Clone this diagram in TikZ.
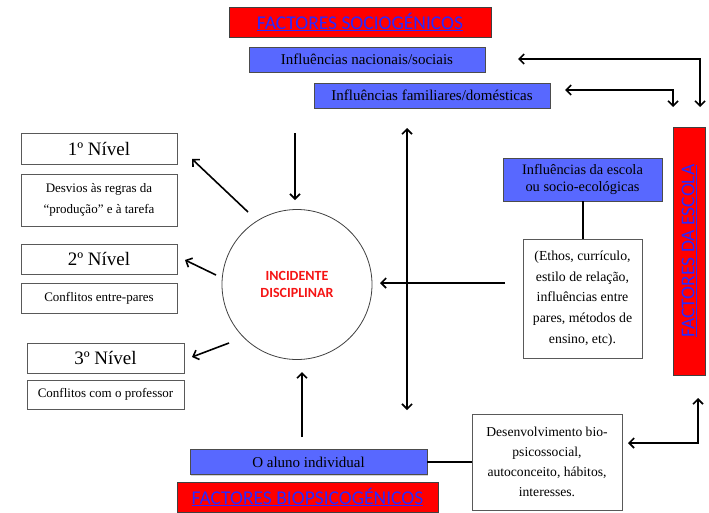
\documentclass[tikz,border=0pt]{standalone}
\usepackage{fontspec}
\setmainfont{Liberation Serif}
\newfontfamily\carl{Carlito}
\usetikzlibrary{arrows.meta,shadows}
\definecolor{boxred}{RGB}{255,0,0}
\definecolor{boxblue}{RGB}{88,104,255}
\definecolor{linkblue}{RGB}{40,40,255}
\definecolor{incred}{RGB}{245,20,20}
\newcommand{\hdline}[1]{\underline{#1}}
\begin{document}
\begin{tikzpicture}[x=1pt,y=-1pt,
  >={Straight Barb[length=5pt,width=10pt]},
  shade/.style={drop shadow={opacity=0.35, shadow xshift=1.2pt, shadow yshift=-1.2pt}},
  redbox/.style={draw=black!75, fill=boxred, line width=0.7pt, inner sep=0pt, shade,
    font=\carl\fontsize{19.5}{22}\selectfont, text=linkblue},
  bluebox/.style={draw=black!70, fill=boxblue, line width=0.7pt, inner sep=0pt, shade,
    align=center, font=\fontsize{15}{17.3}\selectfont},
  whitebox/.style={draw=black!65, fill=white, line width=0.8pt, inner sep=0pt, align=center},
  lvlhead/.style={whitebox, font=\fontsize{19}{22}\selectfont},
  lvltext/.style={whitebox, font=\fontsize{13}{21.7}\selectfont},
  bigtext/.style={whitebox, font=\fontsize{13.8}{20.8}\selectfont},
  conn/.style={line width=1.6pt, black},
  plain/.style={line width=2pt, black},
]
\useasboundingbox (0,0) rectangle (709,512);

% headings
\node[redbox, minimum width=262, minimum height=30] (soc) at (360,22) {\hdline{FACTORES SOCIOGÉNICOS}};
\node[bluebox, minimum width=236, minimum height=25] (nac) at (367,59.5) {Influências nacionais/sociais};
\node[bluebox, minimum width=236, minimum height=25] (fam) at (432,95.5) {Influências familiares/domésticas};
\node[redbox, rotate=90, minimum width=248, minimum height=32] (esc) at (689,251) {\hdline{FACTORES DA ESCOLA}};
\node[bluebox, minimum width=159, minimum height=43, font=\fontsize{14.4}{17.3}\selectfont] (infesc) at (582.5,179.5) {Influências da escola\\ou socio-ecológicas};
\node[bigtext, minimum width=119, minimum height=119] (ethos) at (582.5,298.5)
  {(Ethos, currículo,\\estilo de relação,\\influências entre\\pares, métodos de\\ensino, etc).};

% circle
\node[circle, draw=black!75, line width=0.8pt, minimum size=150, align=center,
  font=\carl\bfseries\fontsize{14}{17.5}\selectfont, text=incred] (inc) at (297,284.5) {INCIDENTE\\DISCIPLINAR};

% levels
\node[lvlhead, minimum width=156, minimum height=31] (n1) at (99,148.5) {1º Nível};
\node[lvltext, minimum width=156, minimum height=52] (d1) at (99,200) {Desvios às regras da\\“produção” e à tarefa};
\node[lvlhead, minimum width=156, minimum height=30] (n2) at (99,259) {2º Nível};
\node[lvltext, minimum width=156, minimum height=30] (d2) at (99,298) {Conflitos entre-pares};
\node[lvlhead, minimum width=157, minimum height=30] (n3) at (105.5,358) {3º Nível};
\node[lvltext, minimum width=157, minimum height=29] (d3) at (105.5,394.5) {Conflitos com o professor};

% bottom
\node[bluebox, minimum width=237, minimum height=25] (aluno) at (308.5,462) {O aluno individual};
\node[redbox, minimum width=261, minimum height=30] (bio) at (307.5,497) {\hdline{FACTORES BIOPSICOGÉNICOS}};
\node[bigtext, minimum width=150, minimum height=96, font=\fontsize{13.6}{19.8}\selectfont] (dev) at (547,462)
  {Desenvolvimento bio-\\psicossocial,\\autoconceito, hábitos,\\interesses.};

% coordinates
\coordinate (t1a) at (518,59);  \coordinate (t1b) at (700,59);  \coordinate (t1c) at (700,107);
\coordinate (t2a) at (565,90);  \coordinate (t2b) at (673,90);  \coordinate (t2c) at (673,107);
\coordinate (b1a) at (628,443); \coordinate (b1b) at (698,443); \coordinate (b1c) at (698,398);
\coordinate (vtop) at (407,128); \coordinate (vbot) at (407,410);
\coordinate (hs) at (505,283);  \coordinate (he) at (380,283);
\coordinate (ds) at (295,133);  \coordinate (de) at (295,200);
\coordinate (us) at (302,437);  \coordinate (ue) at (302,372);
\coordinate (a1s) at (248,212); \coordinate (a1e) at (192,159);
\coordinate (a2s) at (216,275); \coordinate (a2e) at (185,260);
\coordinate (a3s) at (229,343); \coordinate (a3e) at (192,357);

% connectors
\draw[conn,<->] (t1a) -- (t1b) -- (t1c);
\draw[conn,<->] (t2a) -- (t2b) -- (t2c);
\draw[conn,<->] (b1a) -- (b1b) -- (b1c);
\draw[conn,<->] (vtop) -- (vbot);
\draw[conn,->] (hs) -- (he);
\draw[conn,->] (ds) -- (de);
\draw[conn,->] (us) -- (ue);
\draw[conn,->] (a1s) -- (a1e);
\draw[conn,->] (a2s) -- (a2e);
\draw[conn,->] (a3s) -- (a3e);
\draw[plain] (infesc.south) -- (ethos.north);
\draw[plain] (aluno.east) -- (dev.west);
\end{tikzpicture}
\end{document}
